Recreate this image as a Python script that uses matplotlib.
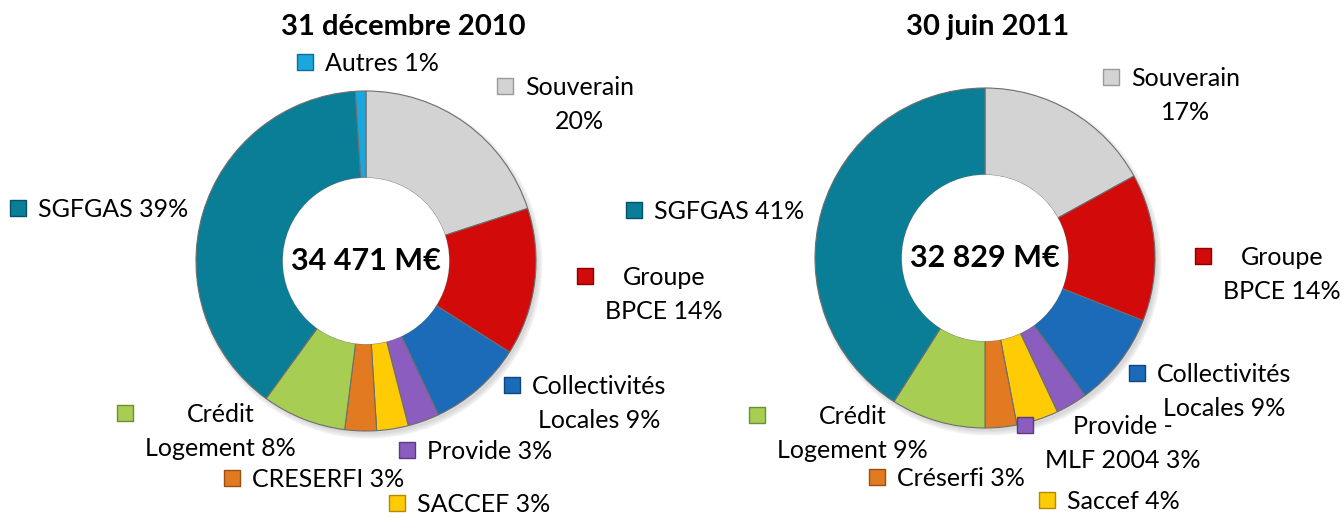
import numpy as np
import matplotlib
matplotlib.use('Agg')
import matplotlib.pyplot as plt

plt.rcParams['font.family'] = ['Lato', 'DejaVu Sans']

# data
names_2010 = ['Souverain\n', 'Groupe\nBPCE', 'Collectivités\nLocales', 'Provide', 'SACCEF',
              'CRESERFI', 'Crédit\nLogement', 'SGFGAS', 'Autres']
vals_2010 = [20, 14, 9, 3, 3, 3, 8, 39, 1]
names_2011 = ['Souverain\n', 'Groupe\nBPCE', 'Collectivités\nLocales', 'Provide -\nMLF 2004',
              'Saccef', 'Créserfi', 'Crédit\nLogement', 'SGFGAS']
vals_2011 = [17, 14, 9, 3, 4, 3, 9, 41]
titles = ['31 décembre 2010', '30 juin 2011']
totals = ['34 471 M€', '32 829 M€']

colors = ['#D3D3D3', '#D20A0A', '#1C6BB8', '#8A5DBE', '#FFCB05', '#E27A22', '#A7CD52', '#0A7E97', '#1BA7DD']
edge = ['#9a9a9a', '#8c0000', '#0f4680', '#5c3a85', '#b08c00', '#9c4f10', '#6d9130', '#055266', '#0d6f96']

# layout (pixel coords, y from top)
centers = [(366, 261), (985, 258)]
r_out = 170
r_in = 83
title_x = [403, 988]
label_pos_2010 = [(505, 86), (585, 276), (512, 385), (407, 450), (397, 503),
                  (232, 478), (125, 413), (18, 208), (305, 62)]
label_pos_2011 = [(1111, 77), (1203, 256), (1137, 373), (1025, 425), (1047, 500),
                  (877, 477), (757, 415), (634, 210)]

W, H = 1342, 518
fig = plt.figure(figsize=(W / 100, H / 100), dpi=100)
ax = fig.add_axes([0, 0, 1, 1])

def label_text(n, v):
    if n.endswith('\n'):
        return n + str(v) + '%'
    return n + ' ' + str(v) + '%'

for k, (names, vals, lpos) in enumerate([(names_2010, vals_2010, label_pos_2010),
                                         (names_2011, vals_2011, label_pos_2011)]):
    cx, cy = centers[k]
    n = len(vals)
    # soft shadow
    for s in range(6):
        ax.add_patch(plt.Circle((cx + 3, H - cy - 4), r_out + 3 - s, color='#000000', alpha=0.025, zorder=0))
    ax.pie(vals, colors=colors[:n], startangle=90, counterclock=False,
           center=(cx, H - cy), radius=r_out,
           wedgeprops=dict(width=r_out - r_in, linewidth=0.8, edgecolor='#6e6e6e'))
    ax.add_patch(plt.Circle((cx, H - cy), r_in - 0.5, color='white', zorder=3))
    ax.text(cx, H - cy, totals[k], ha='center', va='center', fontsize=22, fontweight='bold', zorder=5)
    ax.text(title_x[k], H - 27, titles[k], ha='center', va='center', fontsize=21, fontweight='bold')
    for i in range(n):
        mx, my = lpos[i]
        ax.scatter([mx], [H - my], marker='s', s=140, color=colors[i], edgecolors=edge[i],
                   linewidths=1.0, zorder=6)
        ax.text(mx + 20, H - my + 10, label_text(names[i], vals[i]), ha='left', va='top',
                multialignment='center', fontsize=18, linespacing=1.6)

ax.set_xlim(0, W)
ax.set_ylim(0, H)
ax.set_aspect('equal')
ax.set_axis_off()

fig.savefig('out.png', dpi=100)
